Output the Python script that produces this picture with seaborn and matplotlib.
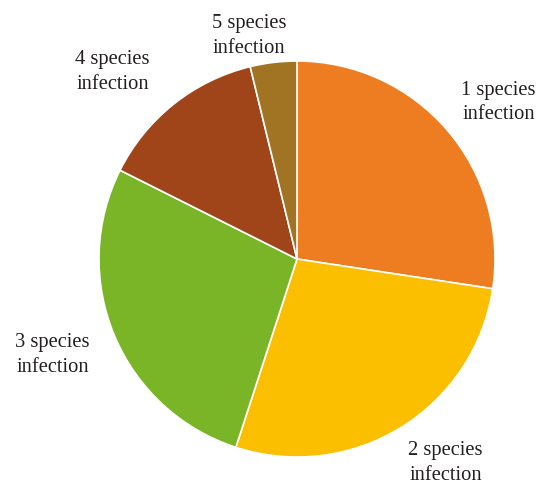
import matplotlib
matplotlib.use("Agg")
import matplotlib.pyplot as plt
import seaborn as sns
import numpy as np

categories = ["1 species\ninfection", "2 species\ninfection", "3 species\ninfection",
              "4 species\ninfection", "5 species\ninfection"]
values = [27.4, 27.6, 27.4, 13.8, 3.8]
colors = ["#EE7D22", "#FBBF00", "#7AB427", "#A0451A", "#A07422"]

sns.set_theme(style="white")
plt.rcParams['font.family'] = ['Liberation Serif', 'DejaVu Serif']

palette = sns.color_palette(colors)

fig = plt.figure(figsize=(5.38, 4.85), dpi=100)
cx, cy, r = 297 / 538, (485 - 260) / 485, 198
w, h = r / 538, r / 485
ax = fig.add_axes([cx - w, cy - h, 2 * w, 2 * h])

wedges, texts = ax.pie(values, labels=categories, colors=palette, startangle=90,
                       counterclock=False, labeldistance=1.3,
                       wedgeprops=dict(edgecolor="white", linewidth=1.2),
                       textprops=dict(fontsize=14.8, color="#231F20", linespacing=1.4))
for t in texts:
    t.set_ha("center")
    t.set_va("center")
# fine tune label radii
radii = [1.30, 1.26, 1.32, 1.34, 1.17]
angles = [38.5, -53.4, -159.3, 134, 102]
for t, rr, a in zip(texts, radii, angles):
    t.set_position((rr * np.cos(np.radians(a)), rr * np.sin(np.radians(a)) - 0.014))
ax.set_xlim(-1, 1)
ax.set_ylim(-1, 1)
ax.set_aspect("equal")
ax.axis("off")
fig.savefig("out.png", dpi=100)
